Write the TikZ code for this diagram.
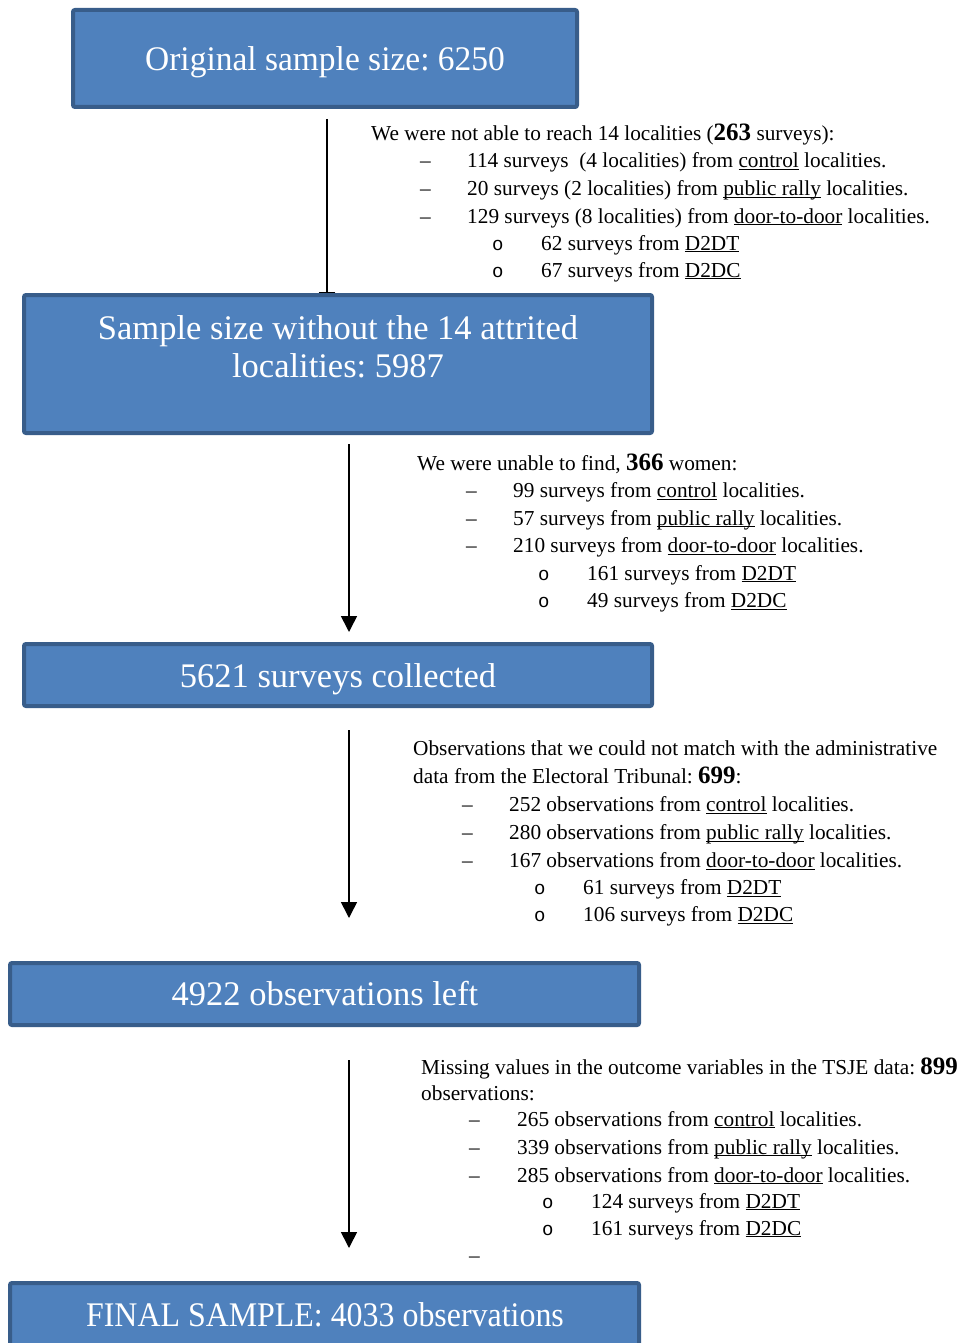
\documentclass[tikz,border=0pt]{standalone}
\usepackage{fontspec}
\setmainfont{Liberation Serif}
\newfontfamily\bulfont{Liberation Mono}
\usetikzlibrary{arrows.meta}
\definecolor{boxf}{HTML}{4F81BD}
\definecolor{boxb}{HTML}{385D8A}
\frenchspacing
\newcommand\ulx[1]{\setbox0=\hbox{#1}\rlap{\rule[-2.4pt]{\wd0}{1.1pt}}\box0\relax}
\newcommand\bn[1]{{\fontsize{25}{25}\selectfont\bfseries #1}}
\tikzset{
  txt/.style={anchor=base west, inner sep=0pt, font=\fontsize{21.3}{26}\selectfont},
  bul/.style={anchor=base west, inner sep=0pt, font=\fontsize{19}{22}\bulfont},
  boxst/.style={draw=boxb, fill=boxf, line width=4pt, rounded corners=2pt, inner sep=0pt},
  boxtxt/.style={anchor=base, inner sep=0pt, text=white, font=\fontsize{34.5}{38}\selectfont},
  arr/.style={line width=1.6pt, -{Triangle[width=16pt,length=16pt]}}
}
\begin{document}
\begin{tikzpicture}[x=1pt,y=-1pt]
\clip (0,0) rectangle (972,1343);
\fill[white] (0,0) rectangle (972,1343);
% arrows (drawn first so that box 2 covers the head of the first)
\coordinate (a1s) at (327,119); \coordinate (a1e) at (327,308);
\coordinate (a2s) at (349,444); \coordinate (a2e) at (349,632);
\coordinate (a3s) at (349,730); \coordinate (a3e) at (349,918);
\coordinate (a4s) at (349,1060); \coordinate (a4e) at (349,1248);
\draw[arr] (a1s) -- (a1e);
\draw[arr] (a2s) -- (a2e);
\draw[arr] (a3s) -- (a3e);
\draw[arr] (a4s) -- (a4e);
% boxes
\node[boxst, minimum width=504pt, minimum height=97pt] (b1) at (325,58.5) {};
\node[boxst, minimum width=628pt, minimum height=138pt] (b2) at (338,364) {};
\node[boxst, minimum width=628pt, minimum height=62pt] (b3) at (338,675) {};
\node[boxst, minimum width=629pt, minimum height=62pt] (b4) at (324.5,994) {};
\node[boxst, minimum width=629pt, minimum height=97pt] (b5) at (324.5,1331.5) {};
\node[boxtxt] (t1) at (325,70.5) {\scalebox{0.97}[1]{Original sample size: 6250}};
\node[boxtxt] (t2a) at (338,339.5) {Sample size without the 14 attrited};
\node[boxtxt] (t2b) at (338,377.5) {localities: 5987};
\node[boxtxt] (t3) at (338,687.5) {5621 surveys collected};
\node[boxtxt] (t4) at (325,1005.5) {4922 observations left};
\node[boxtxt] (t5) at (325,1326.5) {\scalebox{0.925}[1]{FINAL SAMPLE: 4033 observations}};
% block 1
\node[txt] (p1h) at (371,141) {We were not able to reach 14 localities (\bn{263} surveys):};
\node[txt] (p1d1) at (420,168) {–};
\node[txt] (p1i1) at (467,168) {114 surveys\ \ (4 localities) from \ulx{control} localities.};
\node[txt] (p1d2) at (420,196) {–};
\node[txt] (p1i2) at (467,196) {20 surveys (2 localities) from \ulx{public rally} localities.};
\node[txt] (p1d3) at (420,223) {–};
\node[txt] (p1i3) at (467,223) {129 surveys (8 localities) from \ulx{door-to-door} localities.};
\node[bul] (p1c1) at (492,250) {o};
\node[txt] (p1s1) at (541,250) {62 surveys from \ulx{D2DT}};
\node[bul] (p1c2) at (492,277) {o};
\node[txt] (p1s2) at (541,277) {67 surveys from \ulx{D2DC}};
% block 2
\node[txt] (p2h) at (417,470.5) {We were unable to find, \bn{366} women:};
\node[txt] (p2d1) at (466,497.5) {–};
\node[txt] (p2i1) at (513,497.5) {99 surveys from \ulx{control} localities.};
\node[txt] (p2d2) at (466,525) {–};
\node[txt] (p2i2) at (513,525) {57 surveys from \ulx{public rally} localities.};
\node[txt] (p2d3) at (466,552.5) {–};
\node[txt] (p2i3) at (513,552.5) {210 surveys from \ulx{door-to-door} localities.};
\node[bul] (p2c1) at (538,580) {o};
\node[txt] (p2s1) at (587,580) {161 surveys from \ulx{D2DT}};
\node[bul] (p2c2) at (538,607.5) {o};
\node[txt] (p2s2) at (587,607.5) {49 surveys from \ulx{D2DC}};
% block 3
\node[txt] (p3h1) at (413,755.5) {Observations that we could not match with the administrative};
\node[txt] (p3h2) at (413,783.5) {data from the Electoral Tribunal: \bn{699}:};
\node[txt] (p3d1) at (462,811.5) {–};
\node[txt] (p3i1) at (509,811.5) {252 observations from \ulx{control} localities.};
\node[txt] (p3d2) at (462,839.5) {–};
\node[txt] (p3i2) at (509,839.5) {280 observations from \ulx{public rally} localities.};
\node[txt] (p3d3) at (462,867.5) {–};
\node[txt] (p3i3) at (509,867.5) {167 observations from \ulx{door-to-door} localities.};
\node[bul] (p3c1) at (534,894.5) {o};
\node[txt] (p3s1) at (583,894.5) {61 surveys from \ulx{D2DT}};
\node[bul] (p3c2) at (534,921.5) {o};
\node[txt] (p3s2) at (583,921.5) {106 surveys from \ulx{D2DC}};
% block 4
\node[txt] (p4h1) at (421,1074) {Missing values in the outcome variables in the TSJE data: \bn{899}};
\node[txt] (p4h2) at (421,1100) {observations:};
\node[txt] (p4d1) at (469,1126) {–};
\node[txt] (p4i1) at (517,1126) {265 observations from \ulx{control} localities.};
\node[txt] (p4d2) at (469,1154) {–};
\node[txt] (p4i2) at (517,1154) {339 observations from \ulx{public rally} localities.};
\node[txt] (p4d3) at (469,1182) {–};
\node[txt] (p4i3) at (517,1182) {285 observations from \ulx{door-to-door} localities.};
\node[bul] (p4c1) at (542,1208) {o};
\node[txt] (p4s1) at (591,1208) {124 surveys from \ulx{D2DT}};
\node[bul] (p4c2) at (542,1235) {o};
\node[txt] (p4s2) at (591,1235) {161 surveys from \ulx{D2DC}};
\node[txt] (p4d4) at (469,1262) {–};
\end{tikzpicture}
\end{document}
